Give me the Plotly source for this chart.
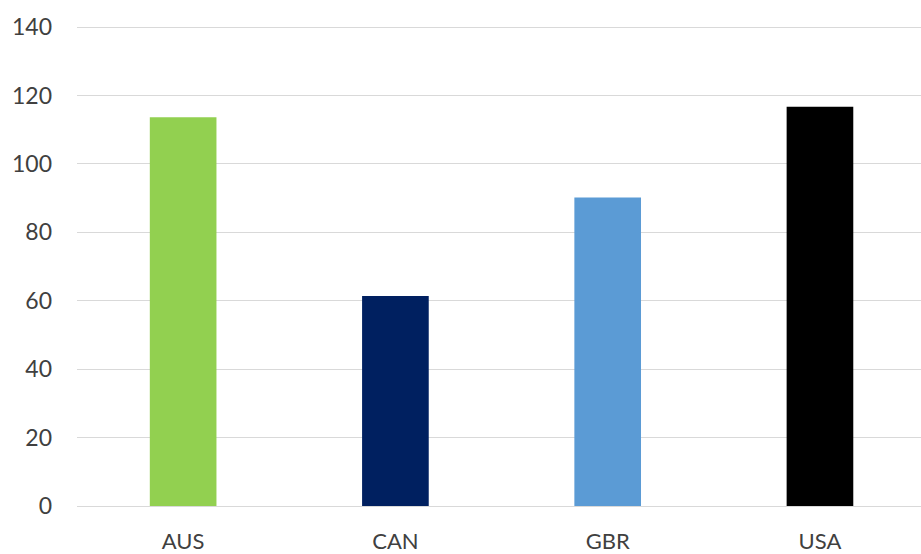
import plotly.graph_objects as go

categories = ["AUS", "CAN", "GBR", "USA"]
values = [113.6, 61.4, 90.2, 116.7]
colors = ["#92D050", "#002060", "#5B9BD5", "#000000"]
y_ticks = [0, 20, 40, 60, 80, 100, 120, 140]

fig = go.Figure(go.Bar(
    x=categories, y=values, marker=dict(color=colors, line=dict(width=0)),
    width=0.314,
))

fig.update_layout(
    width=921, height=554,
    margin=dict(l=77, r=0, t=26, b=46),
    paper_bgcolor="white", plot_bgcolor="white",
    font=dict(family="Lato, Open Sans, sans-serif", size=23, color="#404040"),
    showlegend=False,
    xaxis=dict(range=[-0.5, 3.476], showgrid=False, showline=False, ticks="",
               ticklabelstandoff=20, zeroline=False, tickfont=dict(size=22)),
    yaxis=dict(range=[0, 140.3], tickvals=y_ticks, showgrid=True, gridcolor="#D9D9D9",
               gridwidth=1.3, zeroline=True, zerolinecolor="#D9D9D9", zerolinewidth=1.3,
               showline=False, ticks="", ticklabelstandoff=24),
)

fig.write_html("out.html")
